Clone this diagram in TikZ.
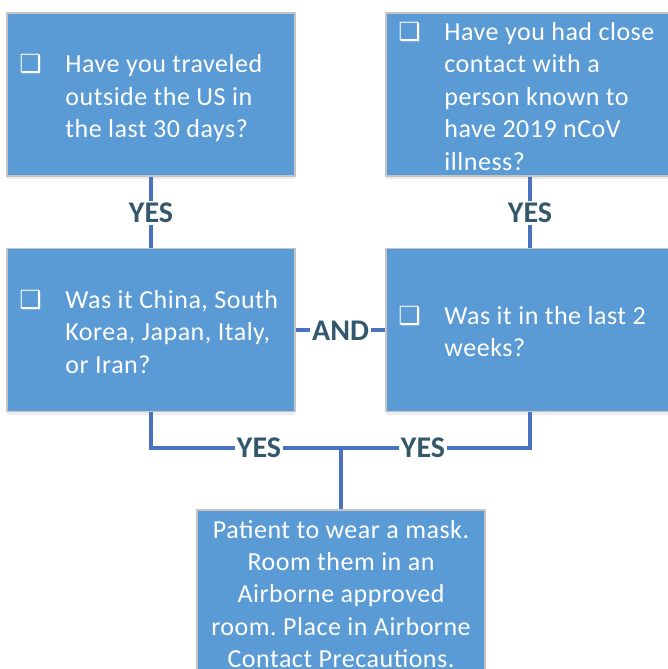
\documentclass[tikz,border=0pt]{standalone}
\usepackage{fontspec}
\setmainfont{Carlito}
\newfontfamily\symfont{DejaVu Sans Bold}
\usetikzlibrary{shadows}
\definecolor{boxfill}{HTML}{5B9BD5}
\definecolor{boxline}{HTML}{C4C4C4}
\definecolor{connc}{HTML}{4A72BE}
\definecolor{labc}{HTML}{34586B}
\tikzset{
  qbox/.style={draw=boxline, line width=1.5pt, fill=boxfill, minimum width=288pt, minimum height=163pt, inner sep=0pt,
    drop shadow={shadow xshift=0pt, shadow yshift=-3pt, opacity=0.15, fill=gray}},
  qtext/.style={text=white, font=\fontsize{26}{32.5}\selectfont\addfontfeature{LetterSpace=2}\frenchspacing, inner sep=0pt, anchor=west},
  conn/.style={draw=connc, line width=4pt},
  lab/.style={fill=white, text=labc, font=\fontsize{30}{32}\selectfont\bfseries, inner sep=2pt}
}
\newcommand{\chk}{{\symfont\fontsize{25}{25}\selectfont ❑}}
\begin{document}
\begin{tikzpicture}[x=1pt,y=-1pt]
\useasboundingbox (0,0) rectangle (668,669);
% boxes
\node[qbox] (b1) at (151,94.5) {};
\node[qbox] (b2) at (530,94.5) {};
\node[qbox] (b3) at (151,330) {};
\node[qbox] (b4) at (530,330) {};
\node[qbox, minimum height=166pt] (b5) at (341,593) {};
% connectors
\coordinate (j) at (341,448);
\draw[conn] (b1.south) -- (b3.north);
\draw[conn] (b2.south) -- (b4.north);
\draw[conn] (b3.east) -- (b4.west);
\draw[conn] (b3.south) |- (j) -| (b4.south);
\draw[conn] (j) -- (b5.north);
\node[lab] (l1) at (151,213) {YES};
\node[lab] (l2) at (530,213) {YES};
\node[lab] (l3) at (340.5,331) {AND};
\node[lab] (l4) at (259,448) {YES};
\node[lab] (l5) at (423,448) {YES};
% texts
\node[qtext] (t1) at ([xshift=13pt,yshift=-4pt]b1.west) {\begin{tabular}{@{}p{46pt}@{}p{229pt}@{}}\chk & Have you traveled\newline outside the US in\newline the last 30 days?\end{tabular}};
\node[qtext] (t2) at ([xshift=13pt,yshift=-4pt]b2.west) {\begin{tabular}{@{}p{46pt}@{}p{229pt}@{}}\chk & Have you had close\newline contact with a\newline person known to\newline have 2019 nCoV\newline illness?\end{tabular}};
\node[qtext] (t3) at ([xshift=13pt,yshift=-4pt]b3.west) {\begin{tabular}{@{}p{46pt}@{}p{229pt}@{}}\chk & Was it China, South\newline Korea, Japan, Italy,\newline or Iran?\end{tabular}};
\node[qtext] (t4) at ([xshift=13pt,yshift=-4pt]b4.west) {\begin{tabular}{@{}p{46pt}@{}p{229pt}@{}}\chk & Was it in the last 2\newline weeks?\end{tabular}};
\node[text=white, font=\fontsize{26}{32.2}\selectfont\addfontfeature{LetterSpace=2}\frenchspacing, align=center, inner sep=0pt] (t5) at (341,594) {Patient to wear a mask.\\ Room them in an\\ Airborne approved\\ room. Place in Airborne\\ Contact Precautions.};
\end{tikzpicture}
\end{document}
